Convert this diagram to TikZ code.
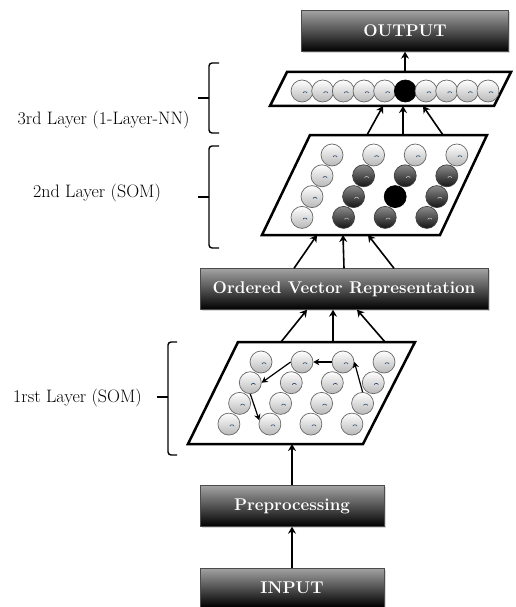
\documentclass[tikz,border=0pt]{standalone}
\usepackage{fontspec}
\usepackage{tikz}
\usetikzlibrary{arrows.meta,shadows}

\definecolor{markblue}{RGB}{40,70,110}

\tikzset{
  stage/.style={draw=black!70, line width=0.4pt, top color=black!36, middle color=black!80, bottom color=black,
    text=white, font=\bfseries\fontsize{17}{20}\selectfont, minimum height=41pt, inner sep=0pt,
    drop shadow={opacity=0.3, shadow xshift=1.5pt, shadow yshift=-1.5pt}},
  frame/.style={line width=2.5pt},
  flow/.style={-{Stealth[length=7pt,width=8pt]}, line width=1.6pt},
  hop/.style={-{Stealth[length=6pt,width=6.5pt]}, line width=1.2pt},
  bracket/.style={line width=1.4pt, rounded corners=3pt},
  sidelabel/.style={font=\fontsize{18}{21}\selectfont},
  neuron/.style={circle, inner sep=0pt, minimum size=22pt, draw=black!60, line width=0.7pt},
  unit/.style={neuron, top color=white, bottom color=black!28,
    path picture={\draw[markblue, line width=0.6pt] ([xshift=1pt,yshift=-2pt]path picture bounding box.center) arc [start angle=180, end angle=0, x radius=2pt, y radius=1.3pt];}},
  darkunit/.style={neuron, draw=black!75, top color=black!45, bottom color=black!92,
    path picture={\draw[white!75!black, line width=0.6pt] ([xshift=1pt,yshift=-2pt]path picture bounding box.center) arc [start angle=180, end angle=0, x radius=2pt, y radius=1.3pt];}},
  winner/.style={neuron, draw=black, fill=black}
}

\begin{document}
\begin{tikzpicture}[x=1pt,y=-1pt]
  \useasboundingbox (0,0) rectangle (516,607);

  % processing stages
  \node[stage, minimum width=207pt] (out) at (405,31) {OUTPUT};
  \node[stage, minimum width=288pt] (ovr) at (344,289) {Ordered Vector Representation};
  \node[stage, minimum width=184pt] (pre) at (292,506) {Preprocessing};
  \node[stage, minimum width=184pt, minimum height=39pt] (inp) at (292,587.5) {INPUT};

  % layer frames
  \draw[frame] (287,72) -- (511,72) -- (494,106) -- (270,106) -- cycle;
  \draw[frame] (310,135) -- (487,135) -- (440,235) -- (262,235) -- cycle;
  \draw[frame] (238,342) -- (415,342) -- (363,444) -- (188,444) -- cycle;
  \coordinate (l3n) at (405,72);
  \coordinate (l3s) at (403,106);
  \coordinate (l2n) at (403,135);
  \coordinate (l2s) at (343,235);
  \coordinate (l1n) at (333,342);
  \coordinate (l1s) at (292,444);

  % 3rd layer
  \foreach \i in {0,...,9} {
    \def\kind{unit}
    \ifnum\i=5 \def\kind{winner}\fi
    \node[\kind] (nn-\i) at ({302+20.67*\i},91) {};
  }

  % 2nd layer
  \foreach \r in {0,...,3}
    \foreach \c in {0,...,3} {
      \def\kind{darkunit}
      \ifnum\r=0 \def\kind{unit}\fi
      \ifnum\c=0 \def\kind{unit}\fi
      \ifnum\r\c=22 \def\kind{winner}\fi
      \node[\kind] (som2-\r-\c) at ({332-10*\r+41.6*\c},{155+20.8*\r}) {};
    }

  % 1rst layer
  \foreach \r in {0,...,3}
    \foreach \c in {0,...,3}
      \node[unit] (som1-\r-\c) at ({261-10.7*\r+41*\c},{362+20.7*\r}) {};

  \draw[hop] (som1-2-3.north) -- (som1-0-2.east);
  \draw[hop] (som1-0-2.west) -- (som1-0-1.east);
  \draw[hop] (som1-0-1.west) -- (som1-1-0.east);
  \draw[hop] (som1-1-0.south) -- (som1-3-1.160);

  % connections between stages
  \draw[flow] (inp.north) -- (pre.south);
  \draw[flow] (pre.north) -- (l1s);
  \draw[flow] ([xshift=-52pt]l1n) -- ([xshift=-37pt]ovr.south);
  \draw[flow] (l1n) -- ([xshift=-11pt]ovr.south);
  \draw[flow] ([xshift=52pt]l1n) -- ([xshift=13pt]ovr.south);
  \draw[flow] ([xshift=-50pt]ovr.north) -- ([xshift=-26pt]l2s);
  \draw[flow] (ovr.north) -- (l2s);
  \draw[flow] ([xshift=50pt]ovr.north) -- ([xshift=25pt]l2s);
  \draw[flow] ([xshift=-36pt]l2n) -- ([xshift=-20pt]l3s);
  \draw[flow] (l2n) -- (l3s);
  \draw[flow] ([xshift=40pt]l2n) -- ([xshift=20pt]l3s);
  \draw[flow] (l3n) -- (out.south);

  % layer braces
  \draw[bracket] (219,63) -| (209,133) -- (219,133);
  \draw[bracket] (209,98) -- (198,98);
  \draw[bracket] (219,146) -| (209,248) -- (219,248);
  \draw[bracket] (209,197) -- (198,197);
  \draw[bracket] (177,342) -| (168,455) -- (177,455);
  \draw[bracket] (168,397) -- (157,397);

  \node[sidelabel] (lab3) at (103.5,120) {3rd Layer (1-Layer-NN)};
  \node[sidelabel] (lab2) at (97,193) {2nd Layer (SOM)};
  \node[sidelabel] (lab1) at (77.5,398) {1rst Layer (SOM)};
\end{tikzpicture}
\end{document}
